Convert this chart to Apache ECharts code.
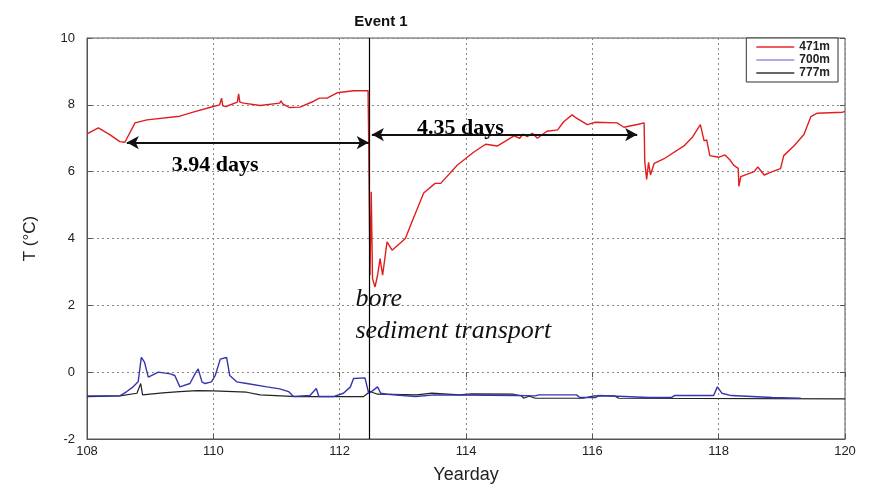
<!DOCTYPE html>
<html><head><meta charset="utf-8">
<script src="https://cdn.jsdelivr.net/npm/echarts@6/dist/echarts.min.js"></script>
<style>html,body{margin:0;padding:0;background:#fff}#c{width:870px;height:489px}</style>
</head><body><div id="c"></div>
<script>
const xTicks = [108, 110, 112, 114, 116, 118, 120];
const yTicks = [-2, 0, 2, 4, 6, 8, 10];
const seriesNames = ['471m', '700m', '777m'];

const red471Day = [108.0,108.18,108.36,108.52,108.6,108.76,108.95,109.47,109.68,110.0,110.1,110.13,110.15,110.2,110.38,110.4,110.42,110.48,110.74,111.05,111.07,111.1,111.2,111.37,111.58,111.68,111.8,111.96,112.22,112.45,112.46,112.48,112.5,112.52,112.56,112.6,112.64,112.68,112.75,112.83,113.04,113.14,113.33,113.51,113.6,113.86,114.12,114.31,114.5,114.76,114.85,114.9,114.97,115.05,115.13,115.28,115.45,115.55,115.68,115.75,115.92,116.05,116.39,116.5,116.71,116.82,116.83,116.86,116.89,116.92,116.98,117.13,117.45,117.58,117.71,117.77,117.81,117.86,118.0,118.1,118.18,118.24,118.31,118.32,118.35,118.56,118.62,118.72,118.85,118.98,119.03,119.19,119.35,119.46,119.56,119.96,120.0];
const red471T = [7.13,7.31,7.11,6.9,6.88,7.46,7.55,7.66,7.78,7.95,8.0,8.2,7.97,7.95,8.08,8.33,8.08,8.05,7.98,8.05,8.12,8.03,7.92,7.93,8.1,8.2,8.2,8.36,8.42,8.42,6.8,2.9,5.4,2.8,2.55,2.9,3.4,2.9,3.9,3.65,4.0,4.48,5.36,5.65,5.65,6.19,6.58,6.82,6.77,7.07,7.0,7.12,7.05,7.15,7.0,7.21,7.25,7.5,7.7,7.6,7.41,7.48,7.46,7.33,7.41,7.46,6.3,5.77,6.28,5.9,6.25,6.38,6.77,7.02,7.41,6.92,6.95,6.48,6.43,6.5,6.35,6.19,6.1,5.56,5.85,6.0,6.14,5.9,6.0,6.09,6.48,6.77,7.11,7.65,7.75,7.78,7.8];

const blue700Day = [108.0,108.52,108.63,108.73,108.81,108.86,108.91,108.97,109.13,109.32,109.39,109.47,109.63,109.71,109.76,109.82,109.87,109.97,110.03,110.11,110.21,110.26,110.37,110.53,110.85,111.05,111.19,111.27,111.53,111.63,111.67,111.9,112.06,112.17,112.22,112.4,112.46,112.52,112.6,112.65,112.75,113.2,113.5,114.8,115.1,115.15,115.75,115.8,116.05,116.1,116.4,116.9,117.25,117.3,117.92,117.98,118.05,118.2,118.85,119.3];
const blue700T = [-0.71,-0.71,-0.58,-0.44,-0.29,0.44,0.3,-0.15,0.0,-0.05,-0.1,-0.44,-0.34,-0.05,0.1,-0.29,-0.34,-0.29,-0.1,0.39,0.44,-0.1,-0.29,-0.34,-0.44,-0.5,-0.58,-0.73,-0.7,-0.49,-0.73,-0.73,-0.63,-0.44,-0.19,-0.17,-0.63,-0.56,-0.44,-0.63,-0.66,-0.73,-0.68,-0.7,-0.71,-0.68,-0.68,-0.76,-0.76,-0.7,-0.72,-0.76,-0.76,-0.7,-0.7,-0.44,-0.63,-0.7,-0.76,-0.78];

const black777Day = [108.0,108.52,108.79,108.85,108.88,109.2,109.47,109.74,110.0,110.53,110.74,111.32,112.38,112.48,112.6,113.22,113.46,113.9,114.09,114.75,114.88,114.91,115.0,115.1,115.85,116.03,116.35,116.42,120.0];
const black777T = [-0.73,-0.71,-0.63,-0.34,-0.68,-0.62,-0.58,-0.55,-0.56,-0.6,-0.68,-0.73,-0.73,-0.58,-0.66,-0.68,-0.63,-0.68,-0.65,-0.66,-0.71,-0.78,-0.72,-0.78,-0.78,-0.71,-0.71,-0.78,-0.8];

const eventDay = 112.47;
const arrowSpans = [[108.63, 112.46, 6.87], [112.51, 116.71, 7.11]];
const spanLabels = [['3.94 days', 110.03, 6.2], ['4.35 days', 113.91, 7.3]];
const noteLabels = [['bore', 112.25, 2.19], ['sediment transport', 112.25, 1.23]];

const zip = (a, b) => a.map((d, i) => [d, b[i]]);
const chart = echarts.init(document.getElementById('c'), null, {renderer: 'canvas'});
const axisFont = {fontFamily: 'Liberation Sans, Arial', fontSize: 13, color: '#222'};

chart.setOption({
  animation: false,
  title: {text: 'Event 1', left: 376, top: 9, textAlign: 'center',
    textStyle: {fontFamily: 'Liberation Sans, Arial', fontSize: 15, fontWeight: 'bold', color: '#111'}},
  grid: {left: 87, right: 25, top: 38, bottom: 41, show: true, borderColor: '#555', borderWidth: 1, backgroundColor: '#fff'},
  legend: {
    data: seriesNames, orient: 'vertical', right: 32, top: 38, itemGap: 1,
    icon: 'rect', itemWidth: 38, itemHeight: 1.5,
    borderColor: '#333', borderWidth: 1, padding: [3, 8, 3, 10], backgroundColor: '#fff',
    textStyle: {fontFamily: 'Liberation Sans, Arial', fontSize: 12, fontWeight: 'bold', color: '#222'}
  },
  xAxis: [{
    type: 'value', min: 108, max: 120, interval: 2,
    name: 'Yearday', nameLocation: 'middle', nameGap: 27,
    nameTextStyle: {fontFamily: 'Liberation Sans, Arial', fontSize: 18, color: '#222'},
    axisLine: {show: true, onZero: false, lineStyle: {color: '#555'}},
    axisTick: {show: true, inside: true, length: 5, lineStyle: {color: '#555'}},
    axisLabel: Object.assign({margin: 6}, axisFont),
    splitLine: {show: true, lineStyle: {color: '#888', type: [2, 3], width: 1}}
  }, {
    type: 'value', min: 108, max: 120, interval: 2, position: 'top',
    axisLine: {show: false}, axisLabel: {show: false}, splitLine: {show: false},
    axisTick: {show: true, inside: true, length: 5, lineStyle: {color: '#555'}}
  }],
  yAxis: [{
    type: 'value', min: -2, max: 10, interval: 2,
    name: 'T (\u00B0C)', nameLocation: 'middle', nameGap: 48,
    nameTextStyle: {fontFamily: 'Liberation Sans, Arial', fontSize: 17, color: '#222'},
    axisLine: {show: true, lineStyle: {color: '#555'}},
    axisTick: {show: true, inside: true, length: 5, lineStyle: {color: '#555'}},
    axisLabel: Object.assign({margin: 12}, axisFont),
    splitLine: {show: true, lineStyle: {color: '#888', type: [2, 3], width: 1}}
  }, {
    type: 'value', min: -2, max: 10, interval: 2, position: 'right',
    axisLine: {show: false}, axisLabel: {show: false}, splitLine: {show: false},
    axisTick: {show: true, inside: true, length: 5, lineStyle: {color: '#555'}}
  }],
  series: [
    {name: seriesNames[0], type: 'line', data: zip(red471Day, red471T), showSymbol: false,
      color: '#e8262a', lineStyle: {width: 1.4, color: '#e01e1e'}, z: 3},
    {name: seriesNames[1], type: 'line', data: zip(blue700Day, blue700T), showSymbol: false,
      color: '#8f8fe0', lineStyle: {width: 1.4, color: '#3535b0'}, z: 3},
    {name: seriesNames[2], type: 'line', data: zip(black777Day, black777T), showSymbol: false,
      color: '#333', lineStyle: {width: 1.2, color: '#222'}, z: 2},
    {name: 'annotations', type: 'scatter', symbolSize: 0, silent: true, z: 5,
      itemStyle: {opacity: 1},
      data: spanLabels.map(s => ({name: s[0], value: [s[1], s[2]],
        label: {show: true, position: 'inside', formatter: s[0], textBorderWidth: 0,
          fontFamily: 'Liberation Serif, Times New Roman', fontSize: 22, fontWeight: 'bold', color: '#000'}}))
        .concat(noteLabels.map(s => ({name: s[0], value: [s[1], s[2]],
        label: {show: true, position: 'right', distance: 0, formatter: s[0], textBorderWidth: 0,
          fontFamily: 'Liberation Serif, Times New Roman', fontSize: 26, fontStyle: 'italic', color: '#111'}}))),
      markLine: {
        silent: true, symbol: ['arrow', 'arrow'], symbolSize: [10, 12], label: {show: false},
        lineStyle: {color: '#111', width: 2, type: 'solid'},
        data: arrowSpans.map(a => [{coord: [a[0], a[2]]}, {coord: [a[1], a[2]]}])
          .concat([[{coord: [eventDay, -2], symbol: 'none', lineStyle: {width: 1.2, color: '#000'}},
                    {coord: [eventDay, 10], symbol: 'none'}]])
      }
    }
  ]
});
</script></body></html>
